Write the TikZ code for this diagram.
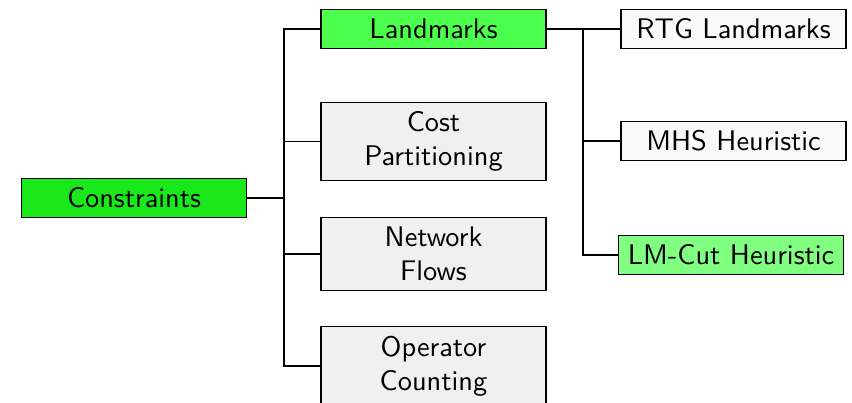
\documentclass[tikz,border=0pt]{standalone}
\usepackage{tikz}

\definecolor{rootgreen}{RGB}{27,232,27}
\definecolor{markgreen}{RGB}{77,255,77}
\definecolor{cutgreen}{RGB}{128,255,128}
\definecolor{boxgray}{RGB}{240,240,240}
\definecolor{leafgray}{RGB}{249,249,249}

\tikzset{
  box/.style={draw, font=\sffamily, minimum width=79.3pt, align=center},
  link/.style={draw, line width=0.4pt}
}

\begin{document}
\begin{tikzpicture}[x=0.3525pt, y=-0.3525pt]
  \useasboundingbox (0,0) rectangle (852,403);

  % Root
  \node[box, fill=rootgreen] (cons) at (134,198) {Constraints};

  % Middle column
  \node[box, fill=markgreen] (land) at (433.5,29) {Landmarks};
  \node[box, fill=boxgray] (cost) at (433.5,141.5) {Cost\\Partitioning};
  \node[box, fill=boxgray] (flow) at (433.5,254) {Network\\Flows};
  \node[box, fill=boxgray] (count) at (433.5,366) {Operator\\Counting};

  % Right column
  \node[box, fill=leafgray] (rtg) at (733.5,29) {RTG Landmarks};
  \node[box, fill=leafgray] (mhs) at (733.5,141) {MHS Heuristic};
  \node[box, fill=cutgreen] (cut) at (731,255) {LM-Cut Heuristic};

  % Forks
  \coordinate (forka) at (284,198);
  \coordinate (forkb) at (583,29);

  \draw[link] (cons.east) -- (forka);
  \foreach \kid in {land,cost,flow,count}
    \draw[link] (forka) |- (\kid.west);

  \draw[link] (land.east) -- (forkb);
  \foreach \kid in {rtg,mhs,cut}
    \draw[link] (forkb) |- (\kid.west);
\end{tikzpicture}
\end{document}
